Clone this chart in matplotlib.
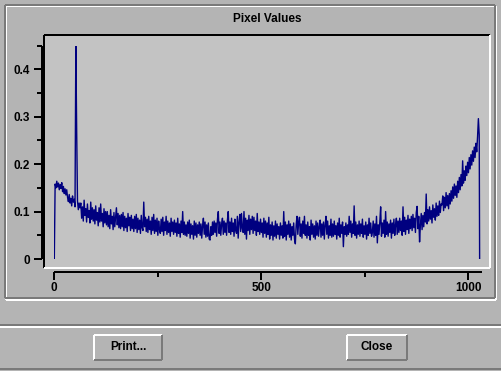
import matplotlib
matplotlib.use('Agg')
import matplotlib.pyplot as plt
from matplotlib.patches import Rectangle
from matplotlib.lines import Line2D
from matplotlib.font_manager import FontProperties
from matplotlib.ticker import MultipleLocator, FixedLocator, FixedFormatter

###DATA
# every second pixel, values in thousandths
pixel_index = list(range(0, 1027, 2)) + [1027]
pixel_value_milli = [
    0, 158, 150, 164, 152, 160, 146, 157, 149, 161, 142, 153, 138, 148, 135, 146,
    130, 121, 136, 118, 128, 112, 133, 120, 126, 110, 450, 272, 122, 104, 118, 108,
    118, 86, 110, 80, 124, 92, 106, 78, 116, 88, 102, 76, 120, 84, 108, 80,
    104, 74, 112, 82, 98, 70, 108, 78, 116, 80, 96, 68, 106, 76, 100, 72,
    100, 68, 92, 64, 104, 74, 90, 62, 98, 68, 88, 108, 72, 96, 66, 92,
    64, 94, 68, 98, 60, 90, 66, 86, 58, 96, 70, 88, 60, 92, 64, 84,
    58, 90, 64, 94, 56, 86, 62, 82, 54, 92, 66, 60, 120, 68, 88, 58,
    84, 56, 90, 62, 80, 52, 88, 60, 94, 54, 82, 58, 86, 50, 80, 62,
    54, 84, 58, 88, 50, 78, 60, 90, 52, 80, 56, 76, 48, 86, 58, 78,
    52, 82, 56, 76, 48, 86, 54, 74, 46, 80, 56, 100, 52, 78, 50, 72,
    48, 78, 54, 82, 44, 74, 52, 70, 42, 80, 50, 76, 46, 72, 54, 78,
    50, 74, 44, 70, 86, 52, 78, 46, 72, 48, 76, 42, 40, 68, 50, 78,
    52, 80, 56, 76, 48, 84, 100, 54, 78, 50, 74, 86, 52, 80, 56, 76,
    50, 82, 100, 56, 78, 52, 86, 58, 76, 48, 84, 60, 54, 90, 44, 78,
    94, 58, 96, 64, 56, 100, 52, 86, 42, 82, 60, 92, 52, 84, 62, 90,
    54, 88, 60, 80, 50, 96, 58, 78, 52, 84, 56, 76, 46, 86, 54, 80,
    46, 76, 52, 88, 42, 72, 50, 78, 40, 70, 48, 80, 44, 74, 52, 68,
    42, 76, 50, 70, 44, 100, 48, 78, 40, 72, 52, 80, 46, 74, 40, 68,
    50, 76, 42, 32, 72, 90, 52, 78, 88, 48, 74, 44, 80, 54, 90, 50,
    72, 44, 78, 50, 68, 40, 82, 52, 74, 46, 70, 42, 80, 50, 76, 48,
    68, 82, 46, 74, 50, 78, 42, 72, 90, 52, 80, 44, 70, 50, 84, 46,
    74, 48, 80, 52, 70, 42, 76, 50, 86, 46, 72, 54, 78, 26, 68, 52,
    76, 48, 72, 52, 90, 56, 80, 46, 74, 54, 112, 50, 78, 44, 72, 52,
    80, 48, 74, 54, 84, 46, 70, 52, 78, 42, 72, 50, 86, 54, 76, 48,
    56, 80, 46, 74, 50, 90, 34, 72, 52, 78, 110, 48, 76, 54, 82, 46,
    100, 52, 78, 48, 74, 56, 82, 44, 76, 54, 84, 50, 72, 86, 52, 80,
    56, 86, 60, 80, 50, 110, 58, 88, 52, 82, 62, 92, 54, 84, 64, 90,
    60, 94, 66, 86, 56, 98, 111, 64, 90, 36, 72, 96, 62, 92, 68, 98,
    78, 137, 74, 104, 80, 110, 84, 102, 76, 114, 88, 106, 82, 118, 90, 112,
    92, 122, 98, 116, 114, 133, 102, 130, 108, 140, 112, 134, 106, 138, 116, 144,
    122, 152, 128, 158, 134, 154, 130, 164, 140, 172, 146, 178, 154, 207, 160, 186,
    166, 196, 176, 204, 182, 214, 190, 220, 198, 228, 206, 236, 214, 244, 226, 258,
    296, 262, 0]
pixel_value = [v / 1000 for v in pixel_value_milli]
y_ticks = [0, 0.1, 0.2, 0.3, 0.4]
y_tick_labels = ['0', '0.1', '0.2', '0.3', '0.4']
x_ticks = [0, 500, 1000]
x_tick_labels = ['0', '500', '1000']
title = 'Pixel Values'
buttons = ['Print...', 'Close']

###WINDOW LOOK
W, H = 502, 371
bg = '#b4b4b4'
plot_bg = '#c3c3c3'
dark = '#7a7a7a'
light = '#ffffff'
font = {'family': 'Liberation Sans', 'weight': 'bold', 'size': 8.5}

fig = plt.figure(figsize=(W / 100, H / 100), dpi=100, facecolor=bg)

def fx(x):
    return x / W

def fy(y):
    return 1 - y / H

def line(x0, y0, x1, y1, color, lw=1.44):
    fig.add_artist(Line2D([fx(x0), fx(x1)], [fy(y0), fy(y1)], transform=fig.transFigure,
                          color=color, lw=lw, zorder=-2, solid_capstyle='butt'))

def bevel(x0, y0, x1, y1, tl, br):
    # top-left edges in one colour, bottom-right in the other
    line(x0, y0, x1, y0, tl)
    line(x0, y0, x0, y1, tl)
    line(x0, y1, x1, y1, br)
    line(x1, y0, x1, y1, br)

# etched frame round the plot
bevel(6, 6, 496.5, 299.5, light, light)
bevel(4.5, 4.5, 495, 298, dark, dark)

# sunken plot area
fig.add_artist(Rectangle((fx(44.3), fy(267.7)), fx(490 - 44.3), (267.7 - 35) / H,
                         transform=fig.transFigure, facecolor=plot_bg, edgecolor='none', zorder=-3))
bevel(44.3, 35, 490, 267.7, '#000000', light)

# bottom button panel
line(0, 325, W, 325, dark)
line(0, 326.5, W, 326.5, light)
line(0, 368.5, W, 368.5, dark)

button_box = [(94.3, 335, 161.7, 360), (347, 335, 406.7, 360)]
for name, (x0, y0, x1, y1) in zip(buttons, button_box):
    bevel(x0, y0, x1, y1, light, dark)
    fig.text(fx((x0 + x1) / 2), fy((y0 + y1) / 2), name, ha='center', va='center', fontdict=font)

fig.text(fx(267.5), fy(19.5), title, ha='center', va='center', fontdict=font)

###PLOT
ax = fig.add_axes([fx(54.3), fy(259), (481.7 - 54.3) / W, (259 - 45.6) / H])
ax.patch.set_visible(False)
ax.plot(pixel_index, pixel_value, color='#000080', lw=1.0)
ax.set_xlim(0, 1032)
ax.set_ylim(0, 0.45)

for s in ['top', 'right']:
    ax.spines[s].set_visible(False)
ax.spines['left'].set_position(('outward', 9.1))
ax.spines['bottom'].set_position(('outward', 9.6))
for s in ['left', 'bottom']:
    ax.spines[s].set_linewidth(1.44)
    ax.spines[s].set_color('black')
    ax.spines[s].set_capstyle('butt')

ax.yaxis.set_major_locator(FixedLocator(y_ticks))
ax.yaxis.set_major_formatter(FixedFormatter(y_tick_labels))
ax.yaxis.set_minor_locator(MultipleLocator(0.05))
ax.xaxis.set_major_locator(FixedLocator(x_ticks))
ax.xaxis.set_major_formatter(FixedFormatter(x_tick_labels))
ax.xaxis.set_minor_locator(FixedLocator([250, 750]))
ax.tick_params(which='major', length=5.8, width=1.44, color='black', pad=2.8)
ax.tick_params(which='minor', length=3.6, width=1.44, color='black')
ax.tick_params(axis='x', pad=1.5)
for lab in ax.get_xticklabels() + ax.get_yticklabels():
    lab.set_fontproperties(FontProperties(**font))

fig.savefig('out.png', dpi=100, facecolor=bg)
